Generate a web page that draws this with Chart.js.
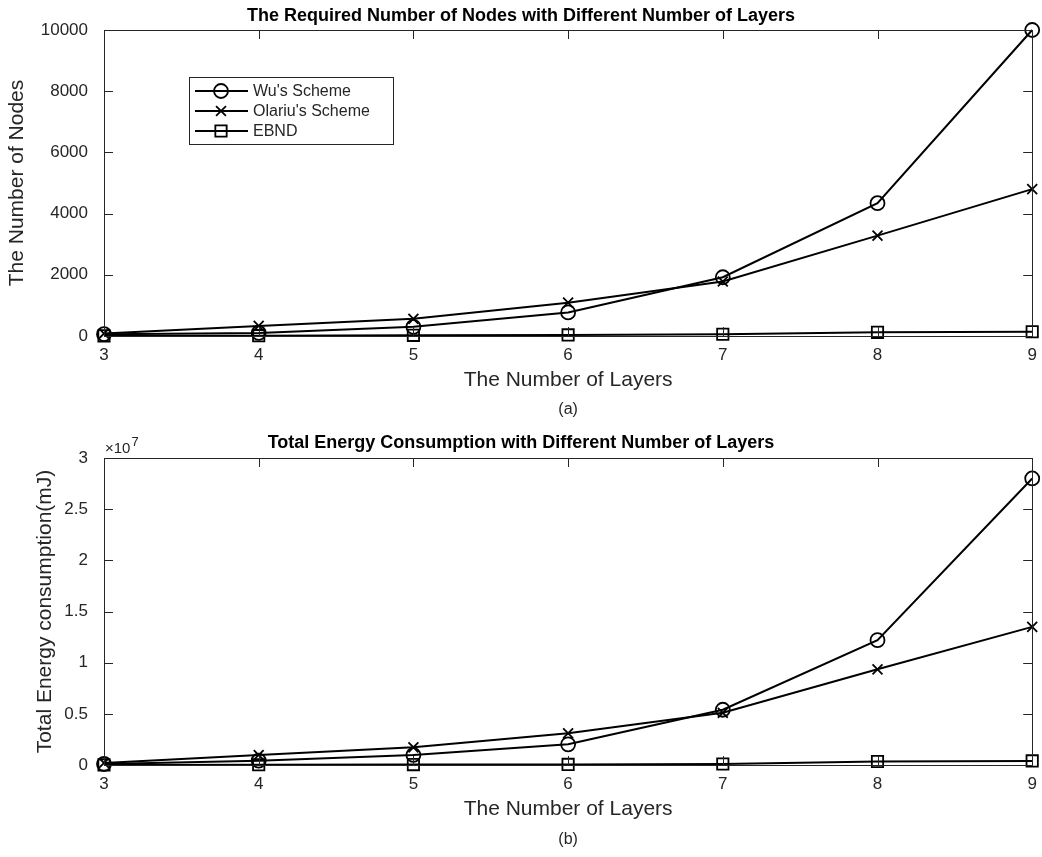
<!DOCTYPE html>
<html>
<head>
<meta charset="utf-8">
<script src="https://cdn.jsdelivr.net/npm/chart.js@4.4.0/dist/chart.umd.min.js"></script>
<style>
html,body{margin:0;padding:0;background:#fff;}
#wrapA{position:absolute;left:0;top:0;width:1042px;height:425px;}
#wrapB{position:absolute;left:0;top:425px;width:1042px;height:432px;}
</style>
</head>
<body>
<div id="wrapA"><canvas id="chartA" width="1042" height="425"></canvas></div>
<div id="wrapB"><canvas id="chartB" width="1042" height="432"></canvas></div>
<script>
// ---- data ----
const layers = ['3', '4', '5', '6', '7', '8', '9'];
const seriesNames = ["Wu's Scheme", "Olariu's Scheme", "EBND"];
const wuNodes      = [60, 100, 300, 770, 1920, 4340, 10000];
const olariuNodes  = [80, 330, 560, 1090, 1780, 3280, 4800];
const ebndNodes    = [5, 12, 22, 35, 55, 120, 140];
const wuEnergy     = [1.0e5, 4.2e5, 9.8e5, 2.02e6, 5.4e6, 1.22e7, 2.8e7];
const olariuEnergy = [2.0e5, 9.8e5, 1.73e6, 3.1e6, 5.1e6, 9.35e6, 1.35e7];
const ebndEnergy   = [1.0e4, 2.0e4, 4.0e4, 6.0e4, 1.0e5, 3.4e5, 4.0e5];
const nodeTicks    = [0, 2000, 4000, 6000, 8000, 10000];
const energyTicks  = [0, 5e6, 1e7, 1.5e7, 2e7, 2.5e7, 3e7];

const FONT = "'Liberation Sans', Arial, Helvetica, sans-serif";
const AXC = '#262626';

const markerStyles = [
  {pointStyle: 'circle', pointRadius: 7},
  {pointStyle: 'crossRot', pointRadius: 7},
  {pointStyle: 'rect', pointRadius: 8}
];

function makeDatasets(arrs) {
  return arrs.map((arr, i) => ({
    label: seriesNames[i],
    data: arr,
    borderColor: '#000',
    backgroundColor: 'rgba(0,0,0,0)',
    borderWidth: 2,
    pointStyle: markerStyles[i].pointStyle,
    pointRadius: markerStyles[i].pointRadius,
    pointBorderWidth: 1.8,
    pointBorderColor: '#000',
    pointBackgroundColor: 'rgba(0,0,0,0)',
    tension: 0,
    clip: false
  }));
}

// box + inward ticks (MATLAB style)
const boxPlugin = {
  id: 'matlabBox',
  afterDatasetsDraw(chart) {
    const {ctx, chartArea: a, scales} = chart;
    ctx.save();
    ctx.strokeStyle = AXC;
    ctx.lineWidth = 1;
    ctx.strokeRect(Math.round(a.left) + 0.5, Math.round(a.top) + 0.5,
                   Math.round(a.right - a.left), Math.round(a.bottom - a.top));
    const tl = 9;
    ctx.beginPath();
    scales.x.ticks.forEach((t, i) => {
      const x = Math.round(scales.x.getPixelForTick(i)) + 0.5;
      ctx.moveTo(x, a.bottom); ctx.lineTo(x, a.bottom - tl);
      ctx.moveTo(x, a.top); ctx.lineTo(x, a.top + tl);
    });
    scales.y.ticks.forEach(t => {
      const y = Math.round(scales.y.getPixelForValue(t.value)) + 0.5;
      ctx.moveTo(a.left, y); ctx.lineTo(a.left + tl, y);
      ctx.moveTo(a.right, y); ctx.lineTo(a.right - tl, y);
    });
    ctx.stroke();
    ctx.restore();
  }
};

function drawMarker(ctx, style, r, x, y) {
  ctx.beginPath();
  if (style === 'circle') {
    ctx.arc(x, y, r, 0, Math.PI * 2);
  } else if (style === 'crossRot') {
    const d = r * Math.SQRT1_2;
    ctx.moveTo(x - d, y - d); ctx.lineTo(x + d, y + d);
    ctx.moveTo(x - d, y + d); ctx.lineTo(x + d, y - d);
  } else {
    const s = r * Math.SQRT1_2;
    ctx.rect(x - s, y - s, 2 * s, 2 * s);
  }
  ctx.stroke();
}

const insideLegend = {
  id: 'insideLegend',
  afterDraw(chart) {
    const {ctx, chartArea: a} = chart;
    const bx = a.left + 85, by = a.top + 47, bw = 204, bh = 67;
    ctx.save();
    ctx.fillStyle = '#fff';
    ctx.fillRect(bx, by, bw, bh);
    ctx.strokeStyle = AXC;
    ctx.lineWidth = 1;
    ctx.strokeRect(bx + 0.5, by + 0.5, bw, bh);
    chart.data.datasets.forEach((ds, i) => {
      const y = by + 14 + i * 20;
      ctx.strokeStyle = '#000';
      ctx.lineWidth = 2;
      ctx.beginPath();
      ctx.moveTo(bx + 6, y); ctx.lineTo(bx + 59, y);
      ctx.stroke();
      ctx.lineWidth = 1.8;
      drawMarker(ctx, ds.pointStyle, ds.pointRadius, bx + 32, y);
      ctx.fillStyle = AXC;
      ctx.font = '16px ' + FONT;
      ctx.textAlign = 'left';
      ctx.textBaseline = 'middle';
      ctx.fillText(ds.label, bx + 64, y + 1);
    });
    ctx.restore();
  }
};

const exponentLabel = {
  id: 'exponentLabel',
  afterDraw(chart) {
    const {ctx, chartArea: a} = chart;
    ctx.save();
    ctx.fillStyle = AXC;
    ctx.textAlign = 'left';
    ctx.textBaseline = 'alphabetic';
    ctx.font = '15px ' + FONT;
    ctx.fillText('\u00d710', a.left + 1, a.top - 5);
    const w = ctx.measureText('\u00d710').width;
    ctx.font = '13px ' + FONT;
    ctx.fillText('7', a.left + 2 + w, a.top - 12);
    ctx.restore();
  }
};

function makeOptions(cfg) {
  return {
    responsive: false,
    animation: false,
    layout: {padding: {left: 0, right: 0, top: 0, bottom: 0}},
    plugins: {
      legend: {display: false},
      tooltip: {enabled: false},
      title: {
        display: true,
        text: cfg.title,
        color: '#000',
        font: {family: FONT, size: 18, weight: 'bold', lineHeight: 1.2},
        padding: cfg.titlePad
      },
      subtitle: {
        display: true,
        position: 'bottom',
        fullSize: false,
        text: cfg.sub,
        color: AXC,
        font: {family: FONT, size: 16, lineHeight: 1.2},
        padding: cfg.subPad
      }
    },
    scales: {
      x: {
        type: 'category',
        offset: false,
        grid: {display: false, drawTicks: false},
        border: {display: false},
        ticks: {color: AXC, font: {family: FONT, size: 17}, padding: 9, maxRotation: 0, autoSkip: false},
        title: {
          display: true, text: 'The Number of Layers', color: AXC,
          font: {family: FONT, size: 21, lineHeight: 1.2},
          padding: {top: 0, bottom: 1.4}
        },
        afterFit: s => { s.height = 58; s.paddingRight = 5; s.paddingLeft = 0; }
      },
      y: {
        type: 'linear',
        min: cfg.ticks[0],
        max: cfg.ticks[cfg.ticks.length - 1],
        grid: {display: false, drawTicks: false},
        border: {display: false},
        afterBuildTicks: s => { s.ticks = cfg.ticks.map(v => ({value: v})); },
        ticks: {
          color: AXC, font: {family: FONT, size: 17}, padding: 16,
          callback: cfg.fmt
        },
        title: {
          display: true, text: cfg.ytitle, color: AXC,
          font: {family: FONT, size: 21, lineHeight: 1.2},
          padding: {top: cfg.ytPad, bottom: 0}
        },
        afterFit: s => { s.width = 104; }
      }
    }
  };
}

new Chart(document.getElementById('chartA'), {
  type: 'line',
  data: {labels: layers, datasets: makeDatasets([wuNodes, olariuNodes, ebndNodes])},
  options: makeOptions({
    title: 'The Required Number of Nodes with Different Number of Layers',
    titlePad: {top: 5, bottom: 3.4},
    sub: '(a)',
    subPad: {top: 6.4, bottom: 5.4},
    ticks: nodeTicks,
    fmt: v => String(v),
    ytitle: 'The Number of Nodes',
    ytPad: 5
  }),
  plugins: [boxPlugin, insideLegend]
});

new Chart(document.getElementById('chartB'), {
  type: 'line',
  data: {labels: layers, datasets: makeDatasets([wuEnergy, olariuEnergy, ebndEnergy])},
  options: makeOptions({
    title: 'Total Energy Consumption with Different Number of Layers',
    titlePad: {top: 7.2, bottom: 4.2},
    sub: '(b)',
    subPad: {top: 7.4, bottom: 7.4},
    ticks: energyTicks,
    fmt: v => String(Math.round(v / 1e6) / 10),
    ytitle: 'Total Energy consumption(mJ)',
    ytPad: 33
  }),
  plugins: [boxPlugin, exponentLabel]
});
</script>
</body>
</html>
